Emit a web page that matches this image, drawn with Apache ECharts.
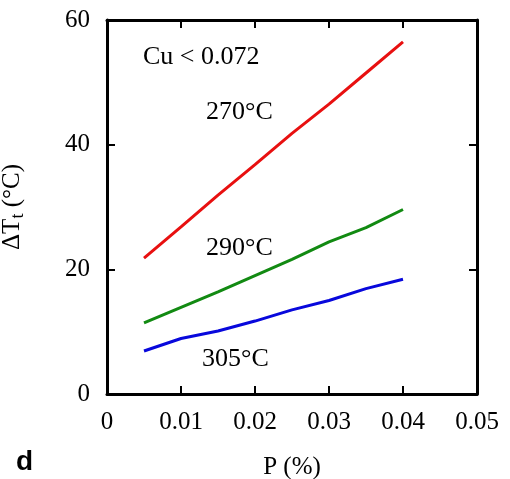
<!DOCTYPE html>
<html>
<head>
<meta charset="utf-8">
<script src="https://cdn.jsdelivr.net/npm/echarts@6/dist/echarts.min.js"></script>
<style>html,body{margin:0;padding:0;background:#fff}#c{width:510px;height:479px}</style>
</head>
<body>
<div id="c"></div>
<script>
var pValues = [0.005, 0.01, 0.015, 0.02, 0.025, 0.03, 0.035, 0.04];
var dT270 = [21.8, 26.8, 31.9, 36.8, 41.8, 46.5, 51.5, 56.5];
var dT290 = [11.4, 13.9, 16.4, 19.0, 21.6, 24.4, 26.7, 29.6];
var dT305 = [6.9, 8.9, 10.1, 11.7, 13.5, 15.0, 16.9, 18.4];
var seriesNames = ['270°C', '290°C', '305°C'];
var annotationTexts = ['Cu < 0.072', '270°C', '290°C', '305°C'];

function pairs(ys) { return pValues.map(function (x, i) { return [x, ys[i]]; }); }

var serif = '"Liberation Serif", "Times New Roman", serif';
var chart = echarts.init(document.getElementById('c'), null, { renderer: 'canvas' });

var axisLine = { show: true, onZero: false, lineStyle: { color: '#000', width: 3 } };
var tick = { show: true, inside: true, length: 8, lineStyle: { color: '#000', width: 2 } };

chart.setOption({
  animation: false,
  backgroundColor: '#fff',
  grid: { left: 107, right: 33, top: 20, bottom: 85, containLabel: false, outerBoundsMode: 'none' },
  xAxis: [{
    type: 'value', min: 0, max: 0.05, interval: 0.01, position: 'bottom',
    axisLine: axisLine, axisTick: tick, splitLine: { show: false },
    axisLabel: { fontFamily: serif, fontSize: 25, color: '#000', margin: 16,
      formatter: function (v) { return v === 0 ? '0' : v.toFixed(2); } },
    name: 'P (%)', nameLocation: 'middle', nameGap: 61,
    nameTextStyle: { fontFamily: serif, fontSize: 25, color: '#000' }
  }, {
    type: 'value', min: 0, max: 0.05, interval: 0.01, position: 'top',
    axisLine: axisLine, axisTick: tick, axisLabel: { show: false }, splitLine: { show: false }
  }],
  yAxis: [{
    type: 'value', min: 0, max: 60, interval: 20, position: 'left',
    axisLine: axisLine, axisTick: tick, splitLine: { show: false },
    axisLabel: { fontFamily: serif, fontSize: 25, color: '#000', margin: 17 },
    name: '{a|ΔT}{b|t}{a| (°C)}', nameLocation: 'middle', nameGap: 80, nameRotate: 90,
    nameTextStyle: { fontFamily: serif, fontSize: 25, color: '#000',
      rich: {
        a: { fontFamily: serif, fontSize: 25, color: '#000', lineHeight: 30, verticalAlign: 'middle' },
        b: { fontFamily: serif, fontSize: 18, color: '#000', lineHeight: 30, verticalAlign: 'bottom', padding: [10, 0, 0, 0] }
      } }
  }, {
    type: 'value', min: 0, max: 60, interval: 20, position: 'right',
    axisLine: axisLine, axisTick: tick, axisLabel: { show: false }, splitLine: { show: false }
  }],
  series: [
    { name: seriesNames[0], type: 'line', data: pairs(dT270), showSymbol: false, symbol: 'none',
      lineStyle: { color: '#e81010', width: 3 }, itemStyle: { color: '#e81010' } },
    { name: seriesNames[1], type: 'line', data: pairs(dT290), showSymbol: false, symbol: 'none',
      lineStyle: { color: '#128a12', width: 3 }, itemStyle: { color: '#128a12' } },
    { name: seriesNames[2], type: 'line', data: pairs(dT305), showSymbol: false, symbol: 'none',
      lineStyle: { color: '#0808dc', width: 3 }, itemStyle: { color: '#0808dc' } }
  ],
  graphic: [
    { type: 'text', x: 143, y: 57, style: { text: annotationTexts[0], font: '26px ' + serif, fill: '#000', textAlign: 'left', textVerticalAlign: 'middle' } },
    { type: 'text', x: 206, y: 112, style: { text: annotationTexts[1], font: '26px ' + serif, fill: '#000', textAlign: 'left', textVerticalAlign: 'middle' } },
    { type: 'text', x: 206, y: 248.5, style: { text: annotationTexts[2], font: '26px ' + serif, fill: '#000', textAlign: 'left', textVerticalAlign: 'middle' } },
    { type: 'text', x: 202, y: 359, style: { text: annotationTexts[3], font: '26px ' + serif, fill: '#000', textAlign: 'left', textVerticalAlign: 'middle' } },
    { type: 'text', x: 16, y: 462, style: { text: 'd', font: 'bold 28px "Liberation Sans", Arial, sans-serif', fill: '#000', textAlign: 'left', textVerticalAlign: 'middle' } }
  ]
});
</script>
</body>
</html>
